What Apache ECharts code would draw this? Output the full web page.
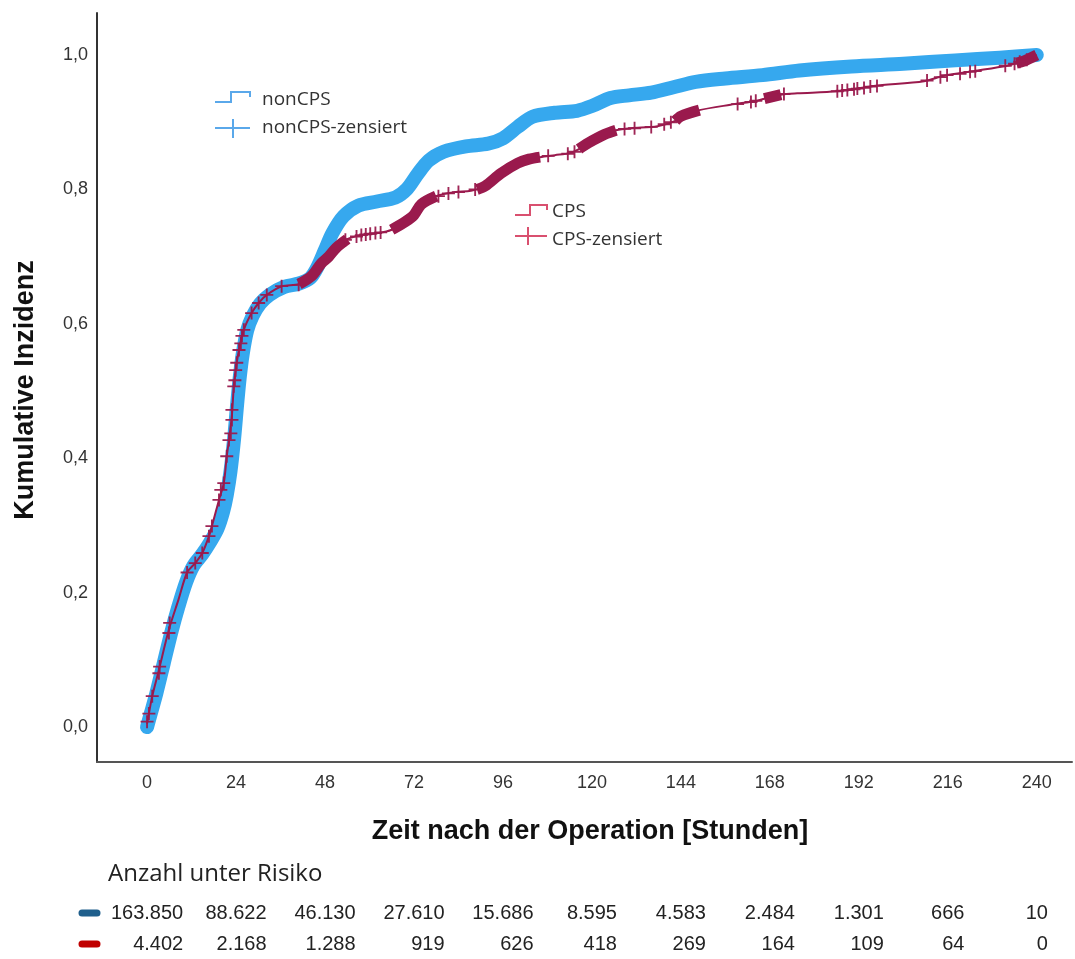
<!DOCTYPE html>
<html><head><meta charset="utf-8">
<script src="https://cdn.jsdelivr.net/npm/echarts@6/dist/echarts.min.js"></script>
<style>html,body{margin:0;padding:0;background:#fff}#c{width:1075px;height:959px}</style>
</head><body><div id="c"></div>
<script>
// ---- data ----
const xTicks = [0, 24, 48, 72, 96, 120, 144, 168, 192, 216, 240];
const yTicks = [0, 0.2, 0.4, 0.6, 0.8, 1.0];

// nonCPS cumulative incidence (time in hours, value)
const nonCPS = [[0,0.0],[1,0.02],[2.5,0.05],[4.5,0.095],[6.5,0.14],[8.5,0.18],[10.5,0.215],[12.5,0.24],[15,0.258],[17,0.275],[19,0.295],[20.5,0.32],[21.5,0.345],[22.5,0.38],[23.5,0.43],[24.3,0.48],[25,0.52],[25.8,0.555],[27,0.59],[28.5,0.612],[30.5,0.63],[33,0.643],[37,0.655],[41,0.66],[44,0.668],[46,0.685],[48,0.71],[50,0.735],[53,0.76],[57,0.776],[62,0.782],[67,0.788],[70,0.80],[73,0.823],[76,0.843],[80,0.856],[86,0.864],[92,0.868],[96,0.876],[100,0.893],[104,0.908],[110,0.914],[116,0.917],[120,0.924],[125,0.936],[130,0.94],[136,0.944],[142,0.952],[148,0.96],[156,0.965],[166,0.970],[176,0.977],[190,0.983],[204,0.987],[218,0.992],[230,0.996],[240,1.0]];

// CPS cumulative incidence
const cps = [[0,0.005],[0.5,0.02],[1.4,0.046],[3.2,0.085],[5.9,0.145],[8.5,0.19],[10.8,0.23],[13,0.244],[14.9,0.259],[16.7,0.284],[17.5,0.299],[19.4,0.338],[20.7,0.363],[21.5,0.403],[22.1,0.427],[22.9,0.465],[23.4,0.507],[23.9,0.531],[24.8,0.561],[26.1,0.591],[28.2,0.616],[30.1,0.631],[32.3,0.643],[36.3,0.656],[41,0.659],[44.4,0.671],[47,0.69],[49,0.70],[51,0.713],[54,0.726],[57.8,0.732],[62.4,0.735],[66,0.74],[69.7,0.752],[72,0.762],[74,0.778],[78,0.79],[82,0.795],[87.4,0.798],[89,0.80],[91.2,0.805],[95.5,0.824],[100,0.839],[103,0.845],[106,0.848],[110,0.851],[114,0.854],[116.5,0.86],[119,0.869],[123.5,0.882],[126.5,0.888],[130.5,0.891],[137.7,0.894],[142.5,0.902],[144,0.909],[149,0.918],[157.4,0.926],[164.6,0.932],[166.5,0.935],[171,0.941],[175.4,0.943],[186,0.946],[196,0.954],[209.6,0.961],[215,0.969],[223,0.976],[232,0.984],[234.5,0.988],[236.5,0.991],[240,1.0]];

// CPS censoring marks (sparse ones)
const cpsCensored = [[0,0.008],[0.5,0.02],[1.4,0.046],[3.2,0.08],[3.4,0.09],[5.9,0.14],[6.1,0.155],[10.8,0.23],[13,0.244],[14.9,0.259],[16.7,0.284],[17.5,0.299],[19.4,0.338],[19.9,0.353],[20.7,0.363],[21.5,0.403],[22.1,0.427],[22.6,0.437],[22.9,0.457],[22.9,0.472],[23.4,0.507],[23.7,0.516],[23.9,0.531],[24.2,0.542],[24.8,0.561],[25.3,0.571],[25.6,0.582],[26.1,0.591],[28.2,0.616],[30.1,0.631],[32.3,0.643],[36.3,0.656],[40.9,0.658],[53.5,0.725],[56.5,0.73],[57.8,0.732],[59,0.733],[60.2,0.734],[61.6,0.735],[63,0.736],[78.6,0.79],[81.3,0.794],[84,0.796],[88.5,0.8],[108.2,0.85],[113.5,0.853],[115.3,0.856],[128.8,0.89],[131.5,0.891],[136,0.893],[139.5,0.897],[141.3,0.90],[159.3,0.927],[162.9,0.93],[164.2,0.932],[171.8,0.942],[186.2,0.946],[187.5,0.947],[188.9,0.948],[190.7,0.949],[191.6,0.95],[193.4,0.951],[195.1,0.953],[196.9,0.954],[210.4,0.962],[214,0.967],[215.8,0.97],[219.3,0.972],[222,0.975],[223.4,0.976],[231.5,0.984],[234,0.987],[235.4,0.99],[237.3,0.993]];

// time spans where the CPS censoring marks merge into a thick band
const cpsDenseRanges = [[41,54],[66,78],[89,106],[116.5,126.5],[142.5,149],[166.5,171],[234.5,240]];

const riskTitle = 'Anzahl unter Risiko';
const riskNonCPS = ['163.850','88.622','46.130','27.610','15.686','8.595','4.583','2.484','1.301','666','10'];
const riskCPS = ['4.402','2.168','1.288','919','626','418','269','164','109','64','0'];

// ---- chart ----
const BLUE = '#36a8ee', MAROON = '#9a1a4d';
const denseData = [];
cpsDenseRanges.forEach((r, i) => {
  if (i > 0) denseData.push([null, null]);
  cps.forEach(p => { if (p[0] >= r[0] && p[0] <= r[1]) denseData.push(p); });
});

const chart = echarts.init(document.getElementById('c'), null, {renderer: 'canvas'});
const crossPath = 'path://M-1,-7H1V-1H7V1H1V7H-1V1H-7V-1H-1Z';

const option = {
  animation: false,
  backgroundColor: '#fff',
  grid: {left: 97, top: 13, right: 3, bottom: 197, containLabel: false},
  xAxis: {
    type: 'value', min: -13.5, max: 249.5,
    axisLine: {show: true, onZero: false, lineStyle: {color: '#555', width: 2}},
    axisTick: {show: false}, splitLine: {show: false},
    axisLabel: {customValues: xTicks, fontSize: 18, color: '#333', margin: 12, fontFamily: 'Liberation Sans'}
  },
  yAxis: {
    type: 'value', min: -0.052, max: 1.0625,
    axisLine: {show: true, onZero: false, lineStyle: {color: '#333', width: 2}},
    axisTick: {show: false}, splitLine: {show: false},
    axisLabel: {customValues: yTicks, fontSize: 18, color: '#333', margin: 9, fontFamily: 'Liberation Sans',
      formatter: v => v.toFixed(1).replace('.', ',')}
  },
  series: [
    {type: 'line', name: 'nonCPS', data: nonCPS, showSymbol: false, smooth: 0.3, z: 2,
      lineStyle: {color: BLUE, width: 14, cap: 'round', join: 'round'}},
    {type: 'line', name: 'CPS', data: cps, showSymbol: false, smooth: 0.3, z: 3,
      lineStyle: {color: MAROON, width: 2}},
    {type: 'line', name: 'CPS-dense', data: denseData, showSymbol: false, smooth: 0.3, connectNulls: false, z: 4,
      lineStyle: {color: MAROON, width: 11, cap: 'butt', join: 'round'}},
    {type: 'scatter', name: 'CPS-zensiert', data: cpsCensored, symbol: crossPath, symbolSize: 13, z: 5,
      itemStyle: {color: MAROON, opacity: 0.95}}
  ],
  graphic: [
    // legend nonCPS
    {type: 'polyline', shape: {points: [[215,102],[231,102],[231,92],[250,92],[250,97]]}, style: {stroke: '#5aa8ea', lineWidth: 2, fill: null}},
    {type: 'text', x: 262, y: 100, style: {text: 'nonCPS', font: '19px "Open Sans"', fill: '#333', verticalAlign: 'middle'}},
    {type: 'line', shape: {x1: 215, y1: 128, x2: 250, y2: 128}, style: {stroke: '#5aa8ea', lineWidth: 2}},
    {type: 'line', shape: {x1: 233, y1: 119, x2: 233, y2: 138}, style: {stroke: '#5aa8ea', lineWidth: 2}},
    {type: 'text', x: 262, y: 128, style: {text: 'nonCPS-zensiert', font: '19px "Open Sans"', fill: '#333', verticalAlign: 'middle'}},
    // legend CPS
    {type: 'polyline', shape: {points: [[515,215],[530,215],[530,205],[547,205],[547,210]]}, style: {stroke: '#d9506f', lineWidth: 2, fill: null}},
    {type: 'text', x: 552, y: 212, style: {text: 'CPS', font: '19px "Open Sans"', fill: '#333', verticalAlign: 'middle'}},
    {type: 'line', shape: {x1: 515, y1: 236, x2: 547, y2: 236}, style: {stroke: '#d9506f', lineWidth: 2}},
    {type: 'line', shape: {x1: 528, y1: 227, x2: 528, y2: 245}, style: {stroke: '#d9506f', lineWidth: 2}},
    {type: 'text', x: 552, y: 240, style: {text: 'CPS-zensiert', font: '19px "Open Sans"', fill: '#333', verticalAlign: 'middle'}},
    // axis titles
    {type: 'text', x: 26, y: 390, rotation: Math.PI / 2, style: {text: 'Kumulative Inzidenz', font: 'bold 27px "Liberation Sans"', fill: '#111', align: 'center', verticalAlign: 'middle'}},
    {type: 'text', x: 590, y: 832, style: {text: 'Zeit nach der Operation [Stunden]', font: 'bold 27px "Liberation Sans"', fill: '#111', align: 'center', verticalAlign: 'middle'}},
    // risk table title + markers
    {type: 'text', x: 108, y: 874, style: {text: riskTitle, font: '24px "Open Sans"', fill: '#222', verticalAlign: 'middle'}},
    {type: 'line', shape: {x1: 82, y1: 913, x2: 97, y2: 913}, style: {stroke: '#1f5f8c', lineWidth: 7, lineCap: 'round'}},
    {type: 'line', shape: {x1: 82, y1: 944, x2: 97, y2: 944}, style: {stroke: '#c00000', lineWidth: 7, lineCap: 'round'}}
  ]
};
chart.setOption(option);

// risk numbers under each tick (positions through the axis scale)
const riskFont = '20px "Liberation Sans"';
const ctx = document.createElement('canvas').getContext('2d');
ctx.font = riskFont;
const extra = [];
xTicks.forEach((t, i) => {
  const px = chart.convertToPixel({xAxisIndex: 0}, t);
  const w = ctx.measureText(riskNonCPS[i]).width;
  const right = px + w / 2;
  extra.push({type: 'text', x: right, y: 913, style: {text: riskNonCPS[i], font: riskFont, fill: '#222', align: 'right', verticalAlign: 'middle'}});
  extra.push({type: 'text', x: right, y: 944, style: {text: riskCPS[i], font: riskFont, fill: '#222', align: 'right', verticalAlign: 'middle'}});
});
chart.setOption({graphic: option.graphic.concat(extra)});
</script></body></html>
